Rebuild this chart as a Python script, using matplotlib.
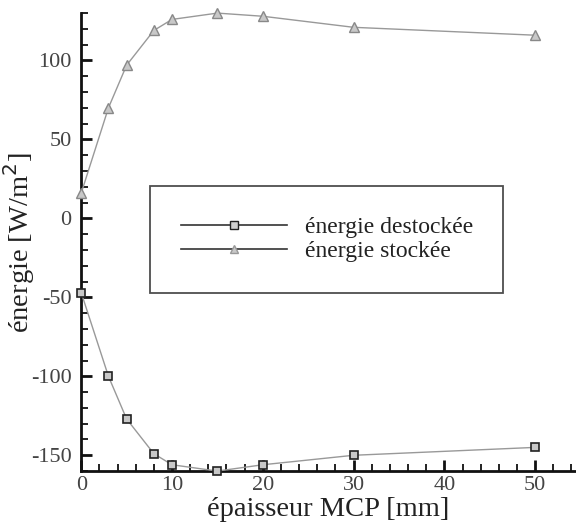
import matplotlib.pyplot as plt
from matplotlib.lines import Line2D
from matplotlib.ticker import MultipleLocator

# data
epaisseur = [0, 3, 5, 8, 10, 15, 20, 30, 50]
energie_stockee = [16, 70, 97, 119, 126, 130, 128, 121, 116]
energie_destockee = [-47, -100, -127, -149, -156, -160, -156, -150, -145]

plt.rcParams['font.family'] = ['Liberation Serif', 'DejaVu Serif']
plt.rcParams['axes.unicode_minus'] = False

fig = plt.figure(figsize=(5.76, 5.24), dpi=100)
ax = fig.add_axes([0.141, 0.101, 0.859, 0.874])

ax.plot(epaisseur, energie_stockee, color='#999999', lw=1.0, marker='^',
        ms=6.5, mfc='#c8c8c8', mec='#888888', mew=1.0, clip_on=False, zorder=3)
ax.plot(epaisseur, energie_destockee, color='#999999', lw=1.0, marker='s',
        ms=6, mfc='#c8c8c8', mec='#222222', mew=1.2, clip_on=False, zorder=3)

ax.set_xlim(0, 54.5)
ax.set_ylim(-160, 130)
ax.xaxis.set_major_locator(MultipleLocator(10))
ax.xaxis.set_minor_locator(MultipleLocator(2))
ax.yaxis.set_major_locator(MultipleLocator(50))
ax.yaxis.set_minor_locator(MultipleLocator(10))

for s in ['top', 'right']:
    ax.spines[s].set_visible(False)
for s in ['left', 'bottom']:
    ax.spines[s].set_linewidth(2.0)
    ax.spines[s].set_color('#111111')

ax.tick_params(which='major', direction='in', length=8, width=2.0,
               labelsize=16, labelcolor='#444444', color='#111111', pad=7)
ax.tick_params(axis='x', which='major', pad=3.5)
ax.tick_params(which='minor', direction='in', length=5, width=1.3, color='#111111')

ax.set_xlabel('épaisseur MCP [mm]', fontsize=20.5, color='#222222')
ax.set_ylabel('énergie [W/m$^2$]', fontsize=20.5, color='#222222')
ax.xaxis.set_label_coords(0.5, -0.056)
ax.yaxis.set_label_coords(-0.09, 0.498)

handles = [
    Line2D([], [], color='#333333', lw=1.2, marker='s', ms=5.5,
           mfc='#d0d0d0', mec='#222222', mew=1.0),
    Line2D([], [], color='#333333', lw=1.2, marker='^', ms=6,
           mfc='#c8c8c8', mec='#999999', mew=1.0),
]
leg = ax.legend(handles, ['énergie destockée', 'énergie stockée'],
                loc='center', bbox_to_anchor=(0.139, 0.378, 0.714, 0.257),
                mode='expand', fontsize=17, frameon=True, fancybox=False,
                edgecolor='#222222', handlelength=4.5, handletextpad=0.75,
                borderpad=1.3, labelspacing=0.1, borderaxespad=0)
leg.get_frame().set_linewidth(1.3)
for t in leg.get_texts():
    t.set_color('#222222')

fig.savefig('out.png', dpi=100)
